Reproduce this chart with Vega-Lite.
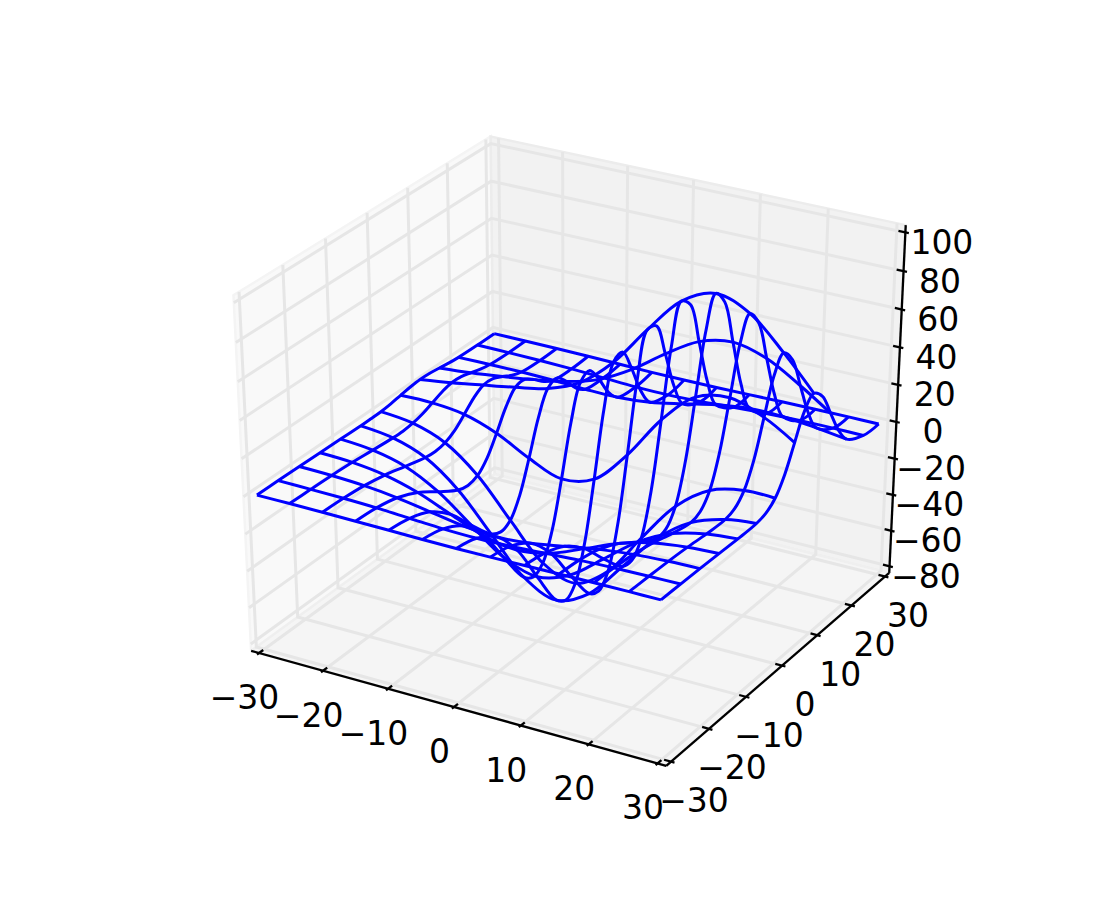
{"$schema":"https://vega.github.io/schema/vega-lite/v6.json","width":1100,"height":900,"padding":0,"autosize":{"type":"none"},"background":"white","view":{"stroke":null},
"datasets":{"all":[
{"k":"pane","p":"L","i":0,"x":-31.25,"y":-31.25,"z":-83.75},{"k":"pane","p":"L","i":1,"x":-31.25,"y":-31.25,"z":103.75},{"k":"pane","p":"L","i":2,"x":-31.25,"y":31.25,"z":103.75},{"k":"pane","p":"L","i":3,"x":-31.25,"y":31.25,"z":-83.75},{"k":"pane","p":"L","i":4,"x":-31.25,"y":-31.25,"z":-83.75},
{"k":"pane","p":"B","i":0,"x":-31.25,"y":31.25,"z":-83.75},{"k":"pane","p":"B","i":1,"x":-31.25,"y":31.25,"z":103.75},{"k":"pane","p":"B","i":2,"x":31.25,"y":31.25,"z":103.75},{"k":"pane","p":"B","i":3,"x":31.25,"y":31.25,"z":-83.75},{"k":"pane","p":"B","i":4,"x":-31.25,"y":31.25,"z":-83.75},
{"k":"pane","p":"F","i":0,"x":-31.25,"y":-31.25,"z":-83.75},{"k":"pane","p":"F","i":1,"x":31.25,"y":-31.25,"z":-83.75},{"k":"pane","p":"F","i":2,"x":31.25,"y":31.25,"z":-83.75},{"k":"pane","p":"F","i":3,"x":-31.25,"y":31.25,"z":-83.75},{"k":"pane","p":"F","i":4,"x":-31.25,"y":-31.25,"z":-83.75},
{"k":"g","g":"x-30","i":0,"x":-30,"y":-31.25,"z":-83.75},{"k":"g","g":"x-30","i":1,"x":-30,"y":31.25,"z":-83.75},{"k":"g","g":"x-30","i":2,"x":-30,"y":31.25,"z":103.75},
{"k":"g","g":"x-20","i":0,"x":-20,"y":-31.25,"z":-83.75},{"k":"g","g":"x-20","i":1,"x":-20,"y":31.25,"z":-83.75},{"k":"g","g":"x-20","i":2,"x":-20,"y":31.25,"z":103.75},
{"k":"g","g":"x-10","i":0,"x":-10,"y":-31.25,"z":-83.75},{"k":"g","g":"x-10","i":1,"x":-10,"y":31.25,"z":-83.75},{"k":"g","g":"x-10","i":2,"x":-10,"y":31.25,"z":103.75},
{"k":"g","g":"x0","i":0,"x":0,"y":-31.25,"z":-83.75},{"k":"g","g":"x0","i":1,"x":0,"y":31.25,"z":-83.75},{"k":"g","g":"x0","i":2,"x":0,"y":31.25,"z":103.75},
{"k":"g","g":"x10","i":0,"x":10,"y":-31.25,"z":-83.75},{"k":"g","g":"x10","i":1,"x":10,"y":31.25,"z":-83.75},{"k":"g","g":"x10","i":2,"x":10,"y":31.25,"z":103.75},
{"k":"g","g":"x20","i":0,"x":20,"y":-31.25,"z":-83.75},{"k":"g","g":"x20","i":1,"x":20,"y":31.25,"z":-83.75},{"k":"g","g":"x20","i":2,"x":20,"y":31.25,"z":103.75},
{"k":"g","g":"x30","i":0,"x":30,"y":-31.25,"z":-83.75},{"k":"g","g":"x30","i":1,"x":30,"y":31.25,"z":-83.75},{"k":"g","g":"x30","i":2,"x":30,"y":31.25,"z":103.75},
{"k":"g","g":"y-30","i":0,"x":31.25,"y":-30,"z":-83.75},{"k":"g","g":"y-30","i":1,"x":-31.25,"y":-30,"z":-83.75},{"k":"g","g":"y-30","i":2,"x":-31.25,"y":-30,"z":103.75},
{"k":"g","g":"y-20","i":0,"x":31.25,"y":-20,"z":-83.75},{"k":"g","g":"y-20","i":1,"x":-31.25,"y":-20,"z":-83.75},{"k":"g","g":"y-20","i":2,"x":-31.25,"y":-20,"z":103.75},
{"k":"g","g":"y-10","i":0,"x":31.25,"y":-10,"z":-83.75},{"k":"g","g":"y-10","i":1,"x":-31.25,"y":-10,"z":-83.75},{"k":"g","g":"y-10","i":2,"x":-31.25,"y":-10,"z":103.75},
{"k":"g","g":"y0","i":0,"x":31.25,"y":0,"z":-83.75},{"k":"g","g":"y0","i":1,"x":-31.25,"y":0,"z":-83.75},{"k":"g","g":"y0","i":2,"x":-31.25,"y":0,"z":103.75},
{"k":"g","g":"y10","i":0,"x":31.25,"y":10,"z":-83.75},{"k":"g","g":"y10","i":1,"x":-31.25,"y":10,"z":-83.75},{"k":"g","g":"y10","i":2,"x":-31.25,"y":10,"z":103.75},
{"k":"g","g":"y20","i":0,"x":31.25,"y":20,"z":-83.75},{"k":"g","g":"y20","i":1,"x":-31.25,"y":20,"z":-83.75},{"k":"g","g":"y20","i":2,"x":-31.25,"y":20,"z":103.75},
{"k":"g","g":"y30","i":0,"x":31.25,"y":30,"z":-83.75},{"k":"g","g":"y30","i":1,"x":-31.25,"y":30,"z":-83.75},{"k":"g","g":"y30","i":2,"x":-31.25,"y":30,"z":103.75},
{"k":"g","g":"z-80","i":0,"x":-31.25,"y":-31.25,"z":-80},{"k":"g","g":"z-80","i":1,"x":-31.25,"y":31.25,"z":-80},{"k":"g","g":"z-80","i":2,"x":31.25,"y":31.25,"z":-80},
{"k":"g","g":"z-60","i":0,"x":-31.25,"y":-31.25,"z":-60},{"k":"g","g":"z-60","i":1,"x":-31.25,"y":31.25,"z":-60},{"k":"g","g":"z-60","i":2,"x":31.25,"y":31.25,"z":-60},
{"k":"g","g":"z-40","i":0,"x":-31.25,"y":-31.25,"z":-40},{"k":"g","g":"z-40","i":1,"x":-31.25,"y":31.25,"z":-40},{"k":"g","g":"z-40","i":2,"x":31.25,"y":31.25,"z":-40},
{"k":"g","g":"z-20","i":0,"x":-31.25,"y":-31.25,"z":-20},{"k":"g","g":"z-20","i":1,"x":-31.25,"y":31.25,"z":-20},{"k":"g","g":"z-20","i":2,"x":31.25,"y":31.25,"z":-20},
{"k":"g","g":"z0","i":0,"x":-31.25,"y":-31.25,"z":0},{"k":"g","g":"z0","i":1,"x":-31.25,"y":31.25,"z":0},{"k":"g","g":"z0","i":2,"x":31.25,"y":31.25,"z":0},
{"k":"g","g":"z20","i":0,"x":-31.25,"y":-31.25,"z":20},{"k":"g","g":"z20","i":1,"x":-31.25,"y":31.25,"z":20},{"k":"g","g":"z20","i":2,"x":31.25,"y":31.25,"z":20},
{"k":"g","g":"z40","i":0,"x":-31.25,"y":-31.25,"z":40},{"k":"g","g":"z40","i":1,"x":-31.25,"y":31.25,"z":40},{"k":"g","g":"z40","i":2,"x":31.25,"y":31.25,"z":40},
{"k":"g","g":"z60","i":0,"x":-31.25,"y":-31.25,"z":60},{"k":"g","g":"z60","i":1,"x":-31.25,"y":31.25,"z":60},{"k":"g","g":"z60","i":2,"x":31.25,"y":31.25,"z":60},
{"k":"g","g":"z80","i":0,"x":-31.25,"y":-31.25,"z":80},{"k":"g","g":"z80","i":1,"x":-31.25,"y":31.25,"z":80},{"k":"g","g":"z80","i":2,"x":31.25,"y":31.25,"z":80},
{"k":"g","g":"z100","i":0,"x":-31.25,"y":-31.25,"z":100},{"k":"g","g":"z100","i":1,"x":-31.25,"y":31.25,"z":100},{"k":"g","g":"z100","i":2,"x":31.25,"y":31.25,"z":100},
{"k":"t","g":"ax","i":0,"x":-31.25,"y":-31.25,"z":-83.75},{"k":"t","g":"ax","i":1,"x":31.25,"y":-31.25,"z":-83.75},
{"k":"t","g":"ay","i":0,"x":31.25,"y":-31.25,"z":-83.75},{"k":"t","g":"ay","i":1,"x":31.25,"y":31.25,"z":-83.75},
{"k":"t","g":"az","i":0,"x":31.25,"y":31.25,"z":-83.75},{"k":"t","g":"az","i":1,"x":31.25,"y":31.25,"z":103.75},
{"k":"t","g":"tx-30","i":0,"x":-30,"y":-31.75,"z":-83.75},{"k":"t","g":"tx-30","i":1,"x":-30,"y":-30.25,"z":-83.75},
{"k":"t","g":"tx-20","i":0,"x":-20,"y":-31.75,"z":-83.75},{"k":"t","g":"tx-20","i":1,"x":-20,"y":-30.25,"z":-83.75},
{"k":"t","g":"tx-10","i":0,"x":-10,"y":-31.75,"z":-83.75},{"k":"t","g":"tx-10","i":1,"x":-10,"y":-30.25,"z":-83.75},
{"k":"t","g":"tx0","i":0,"x":0,"y":-31.75,"z":-83.75},{"k":"t","g":"tx0","i":1,"x":0,"y":-30.25,"z":-83.75},
{"k":"t","g":"tx10","i":0,"x":10,"y":-31.75,"z":-83.75},{"k":"t","g":"tx10","i":1,"x":10,"y":-30.25,"z":-83.75},
{"k":"t","g":"tx20","i":0,"x":20,"y":-31.75,"z":-83.75},{"k":"t","g":"tx20","i":1,"x":20,"y":-30.25,"z":-83.75},
{"k":"t","g":"tx30","i":0,"x":30,"y":-31.75,"z":-83.75},{"k":"t","g":"tx30","i":1,"x":30,"y":-30.25,"z":-83.75},
{"k":"t","g":"ty-30","i":0,"x":31.75,"y":-30,"z":-83.75},{"k":"t","g":"ty-30","i":1,"x":30.25,"y":-30,"z":-83.75},
{"k":"t","g":"ty-20","i":0,"x":31.75,"y":-20,"z":-83.75},{"k":"t","g":"ty-20","i":1,"x":30.25,"y":-20,"z":-83.75},
{"k":"t","g":"ty-10","i":0,"x":31.75,"y":-10,"z":-83.75},{"k":"t","g":"ty-10","i":1,"x":30.25,"y":-10,"z":-83.75},
{"k":"t","g":"ty0","i":0,"x":31.75,"y":0,"z":-83.75},{"k":"t","g":"ty0","i":1,"x":30.25,"y":0,"z":-83.75},
{"k":"t","g":"ty10","i":0,"x":31.75,"y":10,"z":-83.75},{"k":"t","g":"ty10","i":1,"x":30.25,"y":10,"z":-83.75},
{"k":"t","g":"ty20","i":0,"x":31.75,"y":20,"z":-83.75},{"k":"t","g":"ty20","i":1,"x":30.25,"y":20,"z":-83.75},
{"k":"t","g":"ty30","i":0,"x":31.75,"y":30,"z":-83.75},{"k":"t","g":"ty30","i":1,"x":30.25,"y":30,"z":-83.75},
{"k":"t","g":"tz-80","i":0,"x":31.75,"y":31.25,"z":-80},{"k":"t","g":"tz-80","i":1,"x":30.25,"y":31.25,"z":-80},
{"k":"t","g":"tz-60","i":0,"x":31.75,"y":31.25,"z":-60},{"k":"t","g":"tz-60","i":1,"x":30.25,"y":31.25,"z":-60},
{"k":"t","g":"tz-40","i":0,"x":31.75,"y":31.25,"z":-40},{"k":"t","g":"tz-40","i":1,"x":30.25,"y":31.25,"z":-40},
{"k":"t","g":"tz-20","i":0,"x":31.75,"y":31.25,"z":-20},{"k":"t","g":"tz-20","i":1,"x":30.25,"y":31.25,"z":-20},
{"k":"t","g":"tz0","i":0,"x":31.75,"y":31.25,"z":0},{"k":"t","g":"tz0","i":1,"x":30.25,"y":31.25,"z":0},
{"k":"t","g":"tz20","i":0,"x":31.75,"y":31.25,"z":20},{"k":"t","g":"tz20","i":1,"x":30.25,"y":31.25,"z":20},
{"k":"t","g":"tz40","i":0,"x":31.75,"y":31.25,"z":40},{"k":"t","g":"tz40","i":1,"x":30.25,"y":31.25,"z":40},
{"k":"t","g":"tz60","i":0,"x":31.75,"y":31.25,"z":60},{"k":"t","g":"tz60","i":1,"x":30.25,"y":31.25,"z":60},
{"k":"t","g":"tz80","i":0,"x":31.75,"y":31.25,"z":80},{"k":"t","g":"tz80","i":1,"x":30.25,"y":31.25,"z":80},
{"k":"t","g":"tz100","i":0,"x":31.75,"y":31.25,"z":100},{"k":"t","g":"tz100","i":1,"x":30.25,"y":31.25,"z":100},
{"k":"lx","t":"−30","x":-30,"y":-31.25,"z":-83.75},{"k":"lx","t":"−20","x":-20,"y":-31.25,"z":-83.75},{"k":"lx","t":"−10","x":-10,"y":-31.25,"z":-83.75},{"k":"lx","t":"0","x":0,"y":-31.25,"z":-83.75},{"k":"lx","t":"10","x":10,"y":-31.25,"z":-83.75},{"k":"lx","t":"20","x":20,"y":-31.25,"z":-83.75},{"k":"lx","t":"30","x":30,"y":-31.25,"z":-83.75},
{"k":"ly","t":"−30","x":31.25,"y":-30,"z":-83.75},{"k":"ly","t":"−20","x":31.25,"y":-20,"z":-83.75},{"k":"ly","t":"−10","x":31.25,"y":-10,"z":-83.75},{"k":"ly","t":"0","x":31.25,"y":0,"z":-83.75},{"k":"ly","t":"10","x":31.25,"y":10,"z":-83.75},{"k":"ly","t":"20","x":31.25,"y":20,"z":-83.75},{"k":"ly","t":"30","x":31.25,"y":30,"z":-83.75},
{"k":"lz","t":"−80","x":31.25,"y":31.25,"z":-80},{"k":"lz","t":"−60","x":31.25,"y":31.25,"z":-60},{"k":"lz","t":"−40","x":31.25,"y":31.25,"z":-40},{"k":"lz","t":"−20","x":31.25,"y":31.25,"z":-20},{"k":"lz","t":"0","x":31.25,"y":31.25,"z":0},{"k":"lz","t":"20","x":31.25,"y":31.25,"z":20},{"k":"lz","t":"40","x":31.25,"y":31.25,"z":40},{"k":"lz","t":"60","x":31.25,"y":31.25,"z":60},{"k":"lz","t":"80","x":31.25,"y":31.25,"z":80},{"k":"lz","t":"100","x":31.25,"y":31.25,"z":100},
{"k":"s","x":-30,"y":-30,"z":0},{"k":"s","x":-25,"y":-30,"z":0},{"k":"s","x":-20,"y":-30,"z":-0.1},{"k":"s","x":-15,"y":-30,"z":-0.3},{"k":"s","x":-10,"y":-30,"z":-0.5},{"k":"s","x":-5,"y":-30,"z":-0.8},{"k":"s","x":0,"y":-30,"z":-0.9},{"k":"s","x":5,"y":-30,"z":-0.8},{"k":"s","x":10,"y":-30,"z":-0.5},{"k":"s","x":15,"y":-30,"z":-0.3},{"k":"s","x":20,"y":-30,"z":-0.1},{"k":"s","x":25,"y":-30,"z":0},{"k":"s","x":29.5,"y":-30,"z":0},
{"k":"s","x":-30,"y":-25,"z":0},{"k":"s","x":-25,"y":-25,"z":-0.2},{"k":"s","x":-20,"y":-25,"z":-0.5},{"k":"s","x":-15,"y":-25,"z":-1.1},{"k":"s","x":-10,"y":-25,"z":-2.1},{"k":"s","x":-5,"y":-25,"z":-3.1},{"k":"s","x":0,"y":-25,"z":-3.5},{"k":"s","x":5,"y":-25,"z":-3.1},{"k":"s","x":10,"y":-25,"z":-2.1},{"k":"s","x":15,"y":-25,"z":-1.1},{"k":"s","x":20,"y":-25,"z":-0.5},{"k":"s","x":25,"y":-25,"z":-0.2},{"k":"s","x":29.5,"y":-25,"z":0},
{"k":"s","x":-30,"y":-20,"z":-0.1},{"k":"s","x":-25,"y":-20,"z":-0.5},{"k":"s","x":-20,"y":-20,"z":-1.5},{"k":"s","x":-15,"y":-20,"z":-3.5},{"k":"s","x":-10,"y":-20,"z":-6.5},{"k":"s","x":-5,"y":-20,"z":-9.5},{"k":"s","x":0,"y":-20,"z":-10.8},{"k":"s","x":5,"y":-20,"z":-9.5},{"k":"s","x":10,"y":-20,"z":-6.5},{"k":"s","x":15,"y":-20,"z":-3.5},{"k":"s","x":20,"y":-20,"z":-1.5},{"k":"s","x":25,"y":-20,"z":-0.5},{"k":"s","x":29.5,"y":-20,"z":-0.1},
{"k":"s","x":-30,"y":-15,"z":-0.3},{"k":"s","x":-25,"y":-15,"z":-1.1},{"k":"s","x":-20,"y":-15,"z":-3.5},{"k":"s","x":-15,"y":-15,"z":-8.4},{"k":"s","x":-10,"y":-15,"z":-15.7},{"k":"s","x":-5,"y":-15,"z":-22.8},{"k":"s","x":0,"y":-15,"z":-25.8},{"k":"s","x":5,"y":-15,"z":-22.8},{"k":"s","x":10,"y":-15,"z":-15.7},{"k":"s","x":15,"y":-15,"z":-8.4},{"k":"s","x":20,"y":-15,"z":-3.5},{"k":"s","x":25,"y":-15,"z":-1.1},{"k":"s","x":29.5,"y":-15,"z":-0.3},
{"k":"s","x":-30,"y":-10,"z":-0.5},{"k":"s","x":-25,"y":-10,"z":-2.1},{"k":"s","x":-20,"y":-10,"z":-6.5},{"k":"s","x":-15,"y":-10,"z":-15.7},{"k":"s","x":-10,"y":-10,"z":-29.3},{"k":"s","x":-5,"y":-10,"z":-42.6},{"k":"s","x":0,"y":-10,"z":-48.2},{"k":"s","x":5,"y":-10,"z":-42.6},{"k":"s","x":10,"y":-10,"z":-29.2},{"k":"s","x":15,"y":-10,"z":-15.6},{"k":"s","x":20,"y":-10,"z":-6.5},{"k":"s","x":25,"y":-10,"z":-2.1},{"k":"s","x":29.5,"y":-10,"z":-0.6},
{"k":"s","x":-30,"y":-5,"z":-0.8},{"k":"s","x":-25,"y":-5,"z":-3},{"k":"s","x":-20,"y":-5,"z":-9.3},{"k":"s","x":-15,"y":-5,"z":-22.5},{"k":"s","x":-10,"y":-5,"z":-42.1},{"k":"s","x":-5,"y":-5,"z":-61.3},{"k":"s","x":0,"y":-5,"z":-69.3},{"k":"s","x":5,"y":-5,"z":-60.9},{"k":"s","x":10,"y":-5,"z":-41.4},{"k":"s","x":15,"y":-5,"z":-21.7},{"k":"s","x":20,"y":-5,"z":-8.6},{"k":"s","x":25,"y":-5,"z":-2.4},{"k":"s","x":29.5,"y":-5,"z":-0.4},
{"k":"s","x":-30,"y":-2.5,"z":-0.7},{"k":"s","x":-25,"y":-2.5,"z":-3.1},{"k":"s","x":-20,"y":-2.5,"z":-9.8},{"k":"s","x":-15,"y":-2.5,"z":-23.9},{"k":"s","x":-10,"y":-2.5,"z":-44.9},{"k":"s","x":-5,"y":-2.5,"z":-65.2},{"k":"s","x":0,"y":-2.5,"z":-73.4},{"k":"s","x":5,"y":-2.5,"z":-63.7},{"k":"s","x":10,"y":-2.5,"z":-42.1},{"k":"s","x":15,"y":-2.5,"z":-20.6},{"k":"s","x":20,"y":-2.5,"z":-6.7},{"k":"s","x":25,"y":-2.5,"z":-0.6},{"k":"s","x":29.5,"y":-2.5,"z":1},
{"k":"s","x":-30,"y":0,"z":-0.5},{"k":"s","x":-25,"y":0,"z":-2.5},{"k":"s","x":-20,"y":0,"z":-8.8},{"k":"s","x":-15,"y":0,"z":-22.3},{"k":"s","x":-10,"y":0,"z":-42.4},{"k":"s","x":-5,"y":0,"z":-61.5},{"k":"s","x":0,"y":0,"z":-68.1},{"k":"s","x":5,"y":0,"z":-56.7},{"k":"s","x":10,"y":0,"z":-33.9},{"k":"s","x":15,"y":0,"z":-12.3},{"k":"s","x":20,"y":0,"z":0.7},{"k":"s","x":25,"y":0,"z":5.2},{"k":"s","x":29.5,"y":0,"z":5.1},
{"k":"s","x":-30,"y":2.5,"z":0.1},{"k":"s","x":-25,"y":2.5,"z":-1.1},{"k":"s","x":-20,"y":2.5,"z":-5.8},{"k":"s","x":-15,"y":2.5,"z":-16.5},{"k":"s","x":-10,"y":2.5,"z":-32.6},{"k":"s","x":-5,"y":2.5,"z":-47.2},{"k":"s","x":0,"y":2.5,"z":-49.6},{"k":"s","x":5,"y":2.5,"z":-35.5},{"k":"s","x":10,"y":2.5,"z":-12.3},{"k":"s","x":15,"y":2.5,"z":7.6},{"k":"s","x":20,"y":2.5,"z":17.1},{"k":"s","x":25,"y":2.5,"z":17.5},{"k":"s","x":29.5,"y":2.5,"z":13.8},
{"k":"s","x":-30,"y":5,"z":1.1},{"k":"s","x":-25,"y":5,"z":1.2},{"k":"s","x":-20,"y":5,"z":-0.8},{"k":"s","x":-15,"y":5,"z":-6.8},{"k":"s","x":-10,"y":5,"z":-16.1},{"k":"s","x":-5,"y":5,"z":-23},{"k":"s","x":0,"y":5,"z":-18.7},{"k":"s","x":5,"y":5,"z":-1.1},{"k":"s","x":10,"y":5,"z":21.8},{"k":"s","x":15,"y":5,"z":38.1},{"k":"s","x":20,"y":5,"z":42},{"k":"s","x":25,"y":5,"z":36},{"k":"s","x":29.5,"y":5,"z":26.7},
{"k":"s","x":-30,"y":7.5,"z":2},{"k":"s","x":-25,"y":7.5,"z":3.5},{"k":"s","x":-20,"y":7.5,"z":4.5},{"k":"s","x":-15,"y":7.5,"z":3.8},{"k":"s","x":-10,"y":7.5,"z":2.1},{"k":"s","x":-5,"y":7.5,"z":3.8},{"k":"s","x":0,"y":7.5,"z":14.9},{"k":"s","x":5,"y":7.5,"z":35.6},{"k":"s","x":10,"y":7.5,"z":57.2},{"k":"s","x":15,"y":7.5,"z":69.1},{"k":"s","x":20,"y":7.5,"z":66.8},{"k":"s","x":25,"y":7.5,"z":54.2},{"k":"s","x":29.5,"y":7.5,"z":39.4},
{"k":"s","x":-30,"y":10,"z":2.5},{"k":"s","x":-25,"y":10,"z":4.9},{"k":"s","x":-20,"y":10,"z":7.8},{"k":"s","x":-15,"y":10,"z":10.8},{"k":"s","x":-10,"y":10,"z":14.3},{"k":"s","x":-5,"y":10,"z":21.8},{"k":"s","x":0,"y":10,"z":36.7},{"k":"s","x":5,"y":10,"z":57.8},{"k":"s","x":10,"y":10,"z":76.8},{"k":"s","x":15,"y":10,"z":84.7},{"k":"s","x":20,"y":10,"z":78.4},{"k":"s","x":25,"y":10,"z":62.2},{"k":"s","x":29.5,"y":10,"z":45},
{"k":"s","x":-30,"y":12.5,"z":2.3},{"k":"s","x":-25,"y":12.5,"z":4.6},{"k":"s","x":-20,"y":12.5,"z":7.7},{"k":"s","x":-15,"y":12.5,"z":11.5},{"k":"s","x":-10,"y":12.5,"z":16.4},{"k":"s","x":-5,"y":12.5,"z":24.6},{"k":"s","x":0,"y":12.5,"z":38.5},{"k":"s","x":5,"y":12.5,"z":56.4},{"k":"s","x":10,"y":12.5,"z":71.5},{"k":"s","x":15,"y":12.5,"z":76.8},{"k":"s","x":20,"y":12.5,"z":70},{"k":"s","x":25,"y":12.5,"z":55.2},{"k":"s","x":29.5,"y":12.5,"z":39.8},
{"k":"s","x":-30,"y":15,"z":1.6},{"k":"s","x":-25,"y":15,"z":3.1},{"k":"s","x":-20,"y":15,"z":5.2},{"k":"s","x":-15,"y":15,"z":7.7},{"k":"s","x":-10,"y":15,"z":10.8},{"k":"s","x":-5,"y":15,"z":16.2},{"k":"s","x":0,"y":15,"z":25.7},{"k":"s","x":5,"y":15,"z":38.1},{"k":"s","x":10,"y":15,"z":48.7},{"k":"s","x":15,"y":15,"z":52.5},{"k":"s","x":20,"y":15,"z":48},{"k":"s","x":25,"y":15,"z":37.9},{"k":"s","x":29.5,"y":15,"z":27.3},
{"k":"s","x":-30,"y":17.5,"z":0.8},{"k":"s","x":-25,"y":17.5,"z":1.5},{"k":"s","x":-20,"y":17.5,"z":2.3},{"k":"s","x":-15,"y":17.5,"z":3},{"k":"s","x":-10,"y":17.5,"z":3.7},{"k":"s","x":-5,"y":17.5,"z":5.7},{"k":"s","x":0,"y":17.5,"z":10.4},{"k":"s","x":5,"y":17.5,"z":17.4},{"k":"s","x":10,"y":17.5,"z":24},{"k":"s","x":15,"y":17.5,"z":27},{"k":"s","x":20,"y":17.5,"z":25.3},{"k":"s","x":25,"y":17.5,"z":20.1},{"k":"s","x":29.5,"y":17.5,"z":14.6},
{"k":"s","x":-30,"y":20,"z":0.3},{"k":"s","x":-25,"y":20,"z":0.5},{"k":"s","x":-20,"y":20,"z":0.5},{"k":"s","x":-15,"y":20,"z":0.1},{"k":"s","x":-10,"y":20,"z":-0.6},{"k":"s","x":-5,"y":20,"z":-0.8},{"k":"s","x":0,"y":20,"z":0.7},{"k":"s","x":5,"y":20,"z":4.1},{"k":"s","x":10,"y":20,"z":7.8},{"k":"s","x":15,"y":20,"z":10.1},{"k":"s","x":20,"y":20,"z":10},{"k":"s","x":25,"y":20,"z":8.2},{"k":"s","x":29.5,"y":20,"z":6},
{"k":"s","x":-30,"y":25,"z":0},{"k":"s","x":-25,"y":25,"z":-0.1},{"k":"s","x":-20,"y":25,"z":-0.3},{"k":"s","x":-15,"y":25,"z":-0.8},{"k":"s","x":-10,"y":25,"z":-1.6},{"k":"s","x":-5,"y":25,"z":-2.4},{"k":"s","x":0,"y":25,"z":-2.6},{"k":"s","x":5,"y":25,"z":-2},{"k":"s","x":10,"y":25,"z":-0.9},{"k":"s","x":15,"y":25,"z":0},{"k":"s","x":20,"y":25,"z":0.5},{"k":"s","x":25,"y":25,"z":0.6},{"k":"s","x":29.5,"y":25,"z":0.5},
{"k":"s","x":-30,"y":29.5,"z":0},{"k":"s","x":-25,"y":29.5,"z":0},{"k":"s","x":-20,"y":29.5,"z":-0.1},{"k":"s","x":-15,"y":29.5,"z":-0.3},{"k":"s","x":-10,"y":29.5,"z":-0.6},{"k":"s","x":-5,"y":29.5,"z":-0.9},{"k":"s","x":0,"y":29.5,"z":-1},{"k":"s","x":5,"y":29.5,"z":-0.9},{"k":"s","x":10,"y":29.5,"z":-0.6},{"k":"s","x":15,"y":29.5,"z":-0.3},{"k":"s","x":20,"y":29.5,"z":-0.1},{"k":"s","x":25,"y":29.5,"z":0},{"k":"s","x":29.5,"y":29.5,"z":0}
]},
"data":{"name":"all"},
"transform":[
{"calculate":"datum.x/60","as":"a"},{"calculate":"datum.y/60","as":"b"},{"calculate":"(datum.z-10)/180","as":"c"},
{"calculate":"0.8660254*datum.a+0.5*datum.b","as":"du"},
{"calculate":"-0.25*datum.a+0.4330127*datum.b+0.8660254*datum.c","as":"dv"},
{"calculate":"0.4330127*datum.a-0.75*datum.b+0.5*datum.c","as":"dn"},
{"calculate":"1/(1-datum.dn/10)","as":"f"},
{"calculate":"575.3+460*datum.du*datum.f","as":"px"},
{"calculate":"440-389.5*datum.dv*datum.f","as":"py"}
],
"encoding":{
"x":{"field":"px","type":"quantitative","scale":{"domain":[0,1100],"nice":false,"zero":false},"axis":null},
"y":{"field":"py","type":"quantitative","scale":{"domain":[900,0],"nice":false,"zero":false},"axis":null}
},
"layer":[
{"transform":[{"filter":"datum.k==='pane'&&datum.p==='L'"}],"mark":{"type":"line","fill":"#f9f9f9","stroke":"#f4f4f4","strokeWidth":2.5,"clip":false},"encoding":{"order":{"field":"i"}}},
{"transform":[{"filter":"datum.k==='pane'&&datum.p==='B'"}],"mark":{"type":"line","fill":"#f2f2f2","stroke":"#ececec","strokeWidth":2.5},"encoding":{"order":{"field":"i"}}},
{"transform":[{"filter":"datum.k==='pane'&&datum.p==='F'"}],"mark":{"type":"line","fill":"#f5f5f5","stroke":"#efefef","strokeWidth":2.5},"encoding":{"order":{"field":"i"}}},
{"transform":[{"filter":"datum.k==='g'"}],"mark":{"type":"line","stroke":"#e6e6e6","strokeWidth":3},"encoding":{"detail":{"field":"g"},"order":{"field":"i"}}},
{"transform":[{"filter":"datum.k==='t'"}],"mark":{"type":"line","stroke":"black","strokeWidth":2.3},"encoding":{"detail":{"field":"g"},"order":{"field":"i"}}},
{"transform":[{"filter":"datum.k==='lx'"}],"mark":{"type":"text","font":"DejaVu Sans","fontSize":33,"align":"center","baseline":"middle","dx":-14.5,"dy":46,"fill":"black"},"encoding":{"text":{"field":"t"}}},
{"transform":[{"filter":"datum.k==='ly'"}],"mark":{"type":"text","font":"DejaVu Sans","fontSize":33,"align":"center","baseline":"middle","dx":23,"dy":40.5,"fill":"black"},"encoding":{"text":{"field":"t"}}},
{"transform":[{"filter":"datum.k==='lz'"}],"mark":{"type":"text","font":"DejaVu Sans","fontSize":33,"align":"center","baseline":"middle","dx":36.5,"dy":11.5,"fill":"black"},"encoding":{"text":{"field":"t"}}},
{"transform":[{"filter":"datum.k==='s'"}],"mark":{"type":"line","stroke":"#0000ff","strokeWidth":3,"interpolate":"catmull-rom"},"encoding":{"detail":{"field":"x"},"order":{"field":"y"}}},
{"transform":[{"filter":"datum.k==='s'"},{"filter":{"field":"y","oneOf":[-30,-25,-20,-15,-10,-5,0,5,10,15,20,25,29.5]}}],"mark":{"type":"line","stroke":"#0000ff","strokeWidth":3,"interpolate":"catmull-rom"},"encoding":{"detail":{"field":"y"},"order":{"field":"x"}}}
]}
